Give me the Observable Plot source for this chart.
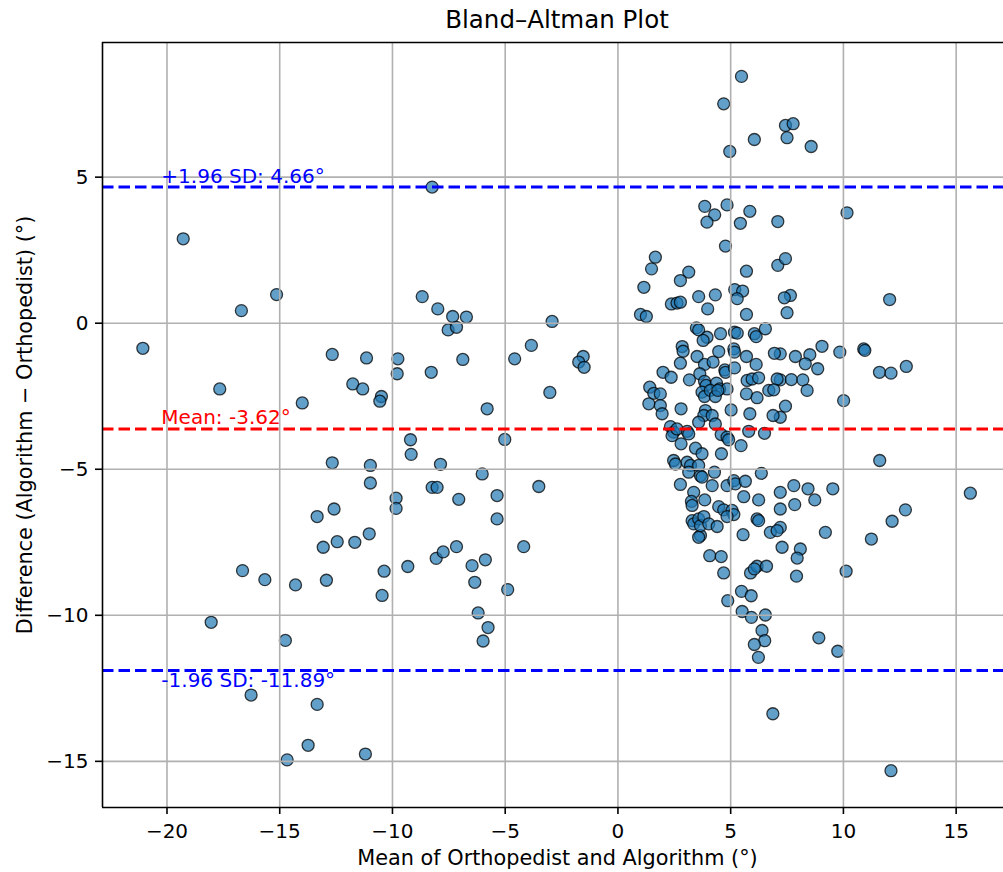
<!DOCTYPE html>
<html><head><meta charset="utf-8">
<script src="https://cdn.jsdelivr.net/npm/d3@7"></script>
<script src="https://cdn.jsdelivr.net/npm/@observablehq/plot@0.6"></script>
<style>
body{margin:0;background:#fff;font-family:"DejaVu Sans",sans-serif;}
#title{position:relative;height:30px;width:1003px;}
#title span{position:absolute;left:557px;top:6px;transform:translateX(-50%);font-size:24.5px;white-space:nowrap;line-height:1.164;color:#000;}
#chart svg{display:block;}
</style></head><body>
<div id="title"><span>Bland–Altman Plot</span></div>
<div id="chart"></div>
<script>
const meanVals = [
-19.28,-15.14,-16.70,-21.07,-12.67,-11.15,-9.76,-9.79,-17.66,-11.76,-11.32,-10.49,-10.56,-14.00,
-12.67,-10.98,-10.98,-9.84,-9.84,-12.59,-13.34,-13.07,-12.45,-11.67,-11.03,-10.37,-10.46,-16.65,-15.66,-14.30,-12.93,-18.04,-14.75,-16.27,-13.34,-13.74,-14.67,-11.20,
-8.24,-8.68,-7.99,-7.33,-6.72,-7.53,-7.16,-2.92,-8.28,-6.88,-4.58,-3.84,-1.54,-1.74,-1.50,-3.02,-5.80,-9.20,-5.02,
-9.17,-7.87,-6.02,-3.51,-8.24,-8.02,-7.06,-5.36,-5.36,-9.32,-8.06,-7.75,-7.16,-6.47,-5.88,-6.35,-4.18,-4.89,-6.20,-5.76,-5.98,
5.48,4.69,6.05,4.96,7.43,7.77,7.50,8.57,3.85,4.29,3.95,4.84,5.85,5.43,7.09,4.77,1.66,1.49,3.14,2.77,5.70,7.09,7.43,1.15,3.58,4.32,5.18,5.53,5.29,10.16,7.65,7.38,7.50,12.05,2.37,2.62,2.77,3.98,5.70,1.00,1.26,
7.20,7.87,8.51,9.05,9.84,10.90,10.95,8.31,8.86,11.60,12.11,12.79,7.20,7.69,8.20,8.39,7.43,7.20,10.01,
11.61,15.63,7.80,8.43,9.53,8.73,7.20,7.20,7.84,7.20,9.20,7.28,8.09,7.95,7.92,10.12,11.24,12.16,12.75,8.91,9.75,12.11,
3.66,5.55,6.76,7.06,4.07,4.58,4.69,5.88,6.17,6.59,6.05,5.48,5.91,4.87,5.51,5.92,6.54,6.39,6.51,6.05,6.23,6.87,
3.48,3.58,3.95,3.78,4.55,5.17,5.29,6.05,6.13,6.54,2.85,2.89,3.51,4.47,5.14,5.17,5.70,6.94,2.77,3.84,4.22,4.74,4.77,5.17,6.13,
2.00,2.36,3.17,3.63,3.84,3.91,4.37,4.51,4.84,5.73,5.95,6.24,7.06,6.69,6.91,1.41,1.59,1.88,1.37,1.88,1.96,2.80,3.73,3.84,4.10,4.32,4.43,3.88,3.81,5.02,5.70,6.17,5.85,6.88,4.18,
2.33,2.47,2.40,2.62,3.07,3.14,3.58,4.32,4.58,4.84,4.91,5.80,6.50,2.80,3.44,3.73,5.46,4.59,2.47,2.55,3.07,3.22,3.14,3.58,3.66,4.28,6.36,2.77,3.73,4.18,4.84,5.14,5.21,5.65,
3.36,3.26,3.29,3.85,5.58,6.24,4.47,4.69,5.06,5.14,4.84,3.29,3.36,3.58,3.66,3.81,4.03,4.40,3.58,6.17,6.24
];
const diffVals = [
2.89,0.98,0.43,-0.86,-1.07,-1.19,-1.22,-1.73,-2.25,-2.08,-2.25,-2.51,-2.67,-2.73,
-4.78,-4.87,-5.47,-5.99,-6.34,-6.36,-6.62,-7.67,-7.48,-7.50,-7.21,-8.49,-9.32,-8.47,-8.78,-8.96,-8.80,-10.24,-10.86,-12.73,-13.05,-14.45,-14.95,-14.75,
4.66,0.91,0.49,0.23,0.21,-0.23,-0.14,0.06,-1.68,-1.24,-1.22,-0.76,-1.14,-1.33,-1.51,-2.37,-2.93,-3.99,-3.98,
-4.49,-4.83,-5.16,-5.59,-5.62,-5.62,-6.03,-5.90,-6.70,-8.33,-8.05,-7.83,-7.65,-8.30,-8.10,-8.87,-7.65,-9.12,-9.92,-10.42,-10.88,
8.45,7.51,6.29,5.88,6.77,6.83,6.35,6.05,4.00,3.71,3.46,4.05,3.83,3.42,3.48,2.64,2.26,1.86,1.75,1.46,1.78,1.98,2.21,1.23,0.91,0.97,1.15,1.10,0.84,3.78,0.95,0.87,0.36,0.81,0.66,0.69,0.72,0.49,0.30,0.30,0.23,
-1.05,-1.14,-1.08,-0.79,-0.99,-0.88,-0.93,-1.39,-1.56,-1.68,-1.71,-1.48,-1.94,-1.93,-1.94,-2.30,-2.84,-3.22,-2.65,
-4.70,-5.82,-5.56,-5.67,-5.67,-6.05,-5.79,-6.36,-6.21,-6.99,-7.16,-7.67,-7.73,-8.04,-8.66,-8.49,-7.39,-6.78,-6.39,-10.77,-11.23,-15.32,
-7.27,-7.24,-7.16,-7.10,-7.96,-7.99,-8.55,-8.55,-8.32,-8.32,-8.41,-9.18,-9.33,-9.50,-9.87,-10.07,-9.99,-10.52,-10.87,-11.00,-11.44,-13.37,
-0.16,-0.23,-0.48,-0.59,-0.36,-0.31,-0.34,-0.36,-0.46,-0.19,-0.80,-0.96,-1.14,-0.97,-0.88,-0.99,-1.14,-1.03,-1.37,-1.41,-1.33,-1.60,-1.68,-1.53,-1.41,
-1.68,-1.85,-1.94,-1.73,-1.99,-2.13,-2.05,-2.25,-2.25,-1.96,-1.91,-1.87,-1.91,-2.30,-2.28,-2.19,-2.40,-2.42,-2.76,-2.82,-3.10,-2.93,-2.36,-2.51,-2.30,-2.51,-2.30,-2.99,-3.16,-2.97,-2.42,-2.55,-3.10,-3.16,-3.16,
-3.54,-3.73,-3.85,-3.62,-3.70,-3.79,-3.39,-3.45,-3.81,-3.90,-3.99,-3.70,-3.77,-4.13,-4.28,-4.47,-4.19,-4.47,-4.70,-4.82,-4.76,-4.87,-5.10,-4.87,-5.22,-5.10,-5.14,-5.52,-5.27,-5.56,-5.56,-5.39,-5.50,-5.41,
-5.79,-6.10,-6.24,-6.05,-5.94,-6.05,-6.28,-6.39,-6.41,-6.55,-6.62,-6.76,-6.87,-6.70,-6.93,-6.62,-6.87,-6.96,-7.33,-6.70,-6.76
];
const xTicks = [-20, -15, -10, -5, 0, 5, 10, 15];
const yTicks = [-15, -10, -5, 0, 5];
const meanDiff = -3.62;
const upperLoA = 4.66;
const lowerLoA = -11.89;
const annotX = -20.25;
const upperText = "+1.96 SD: 4.66°";
const meanText = "Mean: -3.62°";
const lowerText = "-1.96 SD: -11.89°";
const xLabel = "Mean of Orthopedist and Algorithm (°)";
const yLabel = "Difference (Algorithm − Orthopedist) (°)";
const xDomain = [-22.86, 17.10];
const yDomain = [-16.58, 9.61];

const data = meanVals.map((m, i) => ({mean: m, diff: diffVals[i]}));
const fmt = d => d < 0 ? "\u2212" + Math.abs(d) : String(d);
const FS = 20;
const LFS = 20.8;
const dash = {strokeWidth: 3, strokeDasharray: "11.5,5"};

const chart = Plot.plot({
  width: 1003,
  height: 842,
  marginLeft: 102,
  marginRight: 0,
  marginTop: 12,
  marginBottom: 65,
  style: {fontFamily: "DejaVu Sans", fontSize: FS + "px", background: "white", overflow: "visible", color: "black"},
  x: {domain: xDomain},
  y: {domain: yDomain},
  marks: [
    Plot.dot(data, {x: "mean", y: "diff", r: 6, fill: "#1f77b4", fillOpacity: 0.7, stroke: "#000", strokeOpacity: 0.75, strokeWidth: 1.3}),
    Plot.ruleX(xTicks, {stroke: "#b0b0b0", strokeWidth: 1.6}),
    Plot.ruleY(yTicks, {stroke: "#b0b0b0", strokeWidth: 1.6}),
    Plot.ruleY([upperLoA], {stroke: "blue", ...dash}),
    Plot.ruleY([meanDiff], {stroke: "red", ...dash}),
    Plot.ruleY([lowerLoA], {stroke: "blue", ...dash}),
    Plot.text([upperText], {x: () => annotX, y: () => upperLoA, text: d => d, fill: "blue", textAnchor: "start", lineAnchor: "bottom", dy: -4.5, fontSize: FS}),
    Plot.text([meanText], {x: () => annotX, y: () => meanDiff, text: d => d, fill: "red", textAnchor: "start", lineAnchor: "bottom", dy: -4.5, fontSize: FS}),
    Plot.text([lowerText], {x: () => annotX, y: () => lowerLoA, text: d => d, fill: "blue", textAnchor: "start", lineAnchor: "top", dy: 2, fontSize: FS}),
    Plot.ruleX([xDomain[0]], {stroke: "black", strokeWidth: 1.6}),
    Plot.ruleY(yDomain, {stroke: "black", strokeWidth: 1.6}),
    Plot.axisX(xTicks, {tickSize: 7, tickPadding: 9, tickFormat: fmt, fontSize: FS, strokeWidth: 1.6, label: null}),
    Plot.axisY(yTicks, {tickSize: 7, tickPadding: 7, tickFormat: fmt, fontSize: FS, strokeWidth: 1.6, label: null}),
    Plot.text([xLabel], {frameAnchor: "bottom", text: d => d, textAnchor: "middle", dx: 4.5, dy: 57, lineAnchor: "bottom", fontSize: LFS}),
    Plot.text([yLabel], {frameAnchor: "left", text: d => d, textAnchor: "middle", dx: -77, rotate: -90, lineAnchor: "middle", fontSize: LFS})
  ]
});
document.getElementById("chart").appendChild(chart);
</script>
</body></html>
